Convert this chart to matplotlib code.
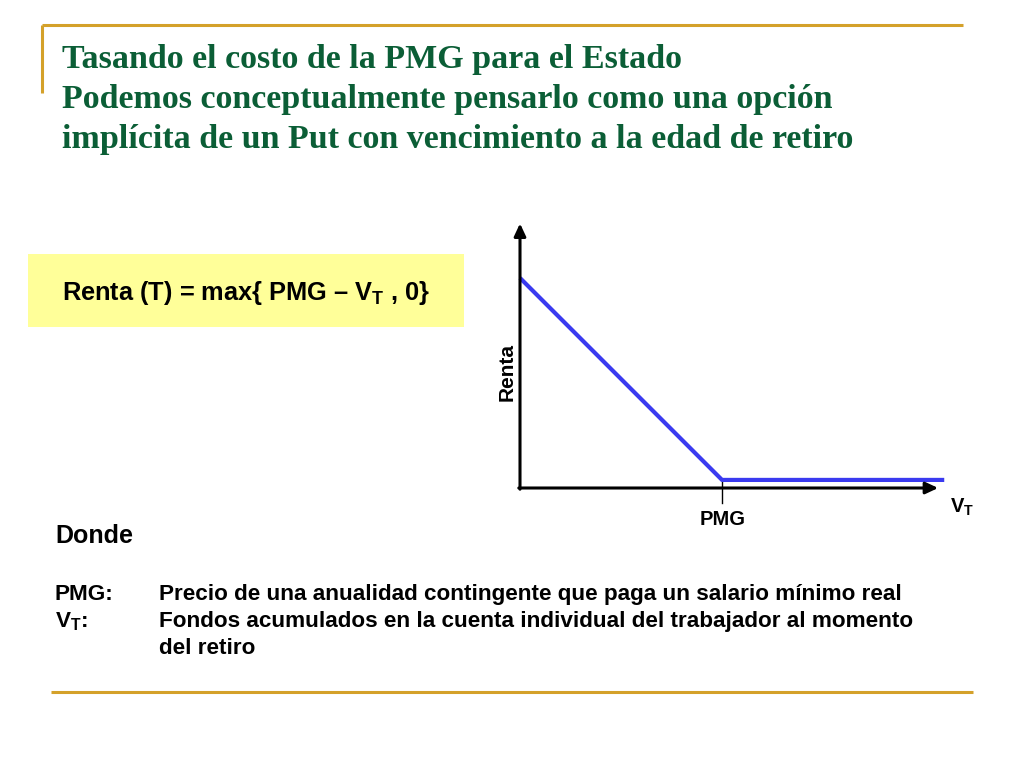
import matplotlib
matplotlib.use('Agg')
import matplotlib.pyplot as plt

# Slide text
title_lines = [
    'Tasando el costo de la PMG para el Estado',
    'Podemos conceptualmente pensarlo como una opción',
    'implícita de un Put con vencimiento a la edad de retiro',
]
formula = r'Renta (T) = max{ PMG – $\mathbf{V_T}$ , 0}'
donde_terms = ['PMG:', r'$\mathbf{V_T}$:', '']
donde_defs = [
    'Precio de una anualidad contingente que paga un salario mínimo real',
    'Fondos acumulados en la cuenta individual del trabajador al momento',
    'del retiro',
]

# Payoff of the put: Renta = max(PMG - V_T, 0)
pmg = 100
vt = [0, 100, 210]
renta = [100, 0, 0]

plt.rcParams['font.family'] = ['Liberation Sans', 'DejaVu Sans']
plt.rcParams['mathtext.fontset'] = 'custom'
plt.rcParams['mathtext.rm'] = 'Liberation Sans:bold'
plt.rcParams['mathtext.bf'] = 'Liberation Sans:bold'
plt.rcParams['mathtext.it'] = 'Liberation Sans:bold'

W, H = 1024, 768
fig = plt.figure(figsize=(W / 100, H / 100), dpi=100)

# background layer in pixel coordinates
bg = fig.add_axes([0, 0, 1, 1])
bg.set_xlim(0, W)
bg.set_ylim(H, 0)
bg.axis('off')

gold = '#D4A12A'
green = '#0B5E36'

# decorative gold rules
bg.plot([42, 963], [25, 25], color=gold, lw=2.2, solid_capstyle='butt')
bg.plot([42, 42], [25, 93], color=gold, lw=2.2, solid_capstyle='butt')
bg.plot([51, 973], [692, 692], color=gold, lw=2.2, solid_capstyle='butt')

# title
for i, line in enumerate(title_lines):
    bg.text(62, 68 + 40 * i, line, family='Liberation Serif', fontweight='bold',
            fontsize=24.5, color=green, ha='left', va='baseline')

# yellow formula box
bg.add_patch(plt.Rectangle((28, 254), 436, 73, facecolor='#FFFF99', edgecolor='none'))
bg.text(246, 300, formula, fontsize=18.3, fontweight='bold', ha='center', va='baseline')

# "Donde" block
bg.text(55, 543, 'Donde', fontsize=18, fontweight='bold', ha='left', va='baseline')
for i, (term, desc) in enumerate(zip(donde_terms, donde_defs)):
    y = 600 + 27 * i
    if term:
        bg.text(55, y, term, fontsize=16.2, fontweight='bold', ha='left', va='baseline')
    bg.text(159, y, desc, fontsize=16.2, fontweight='bold', ha='left', va='baseline')

# payoff diagram
ax = fig.add_axes([520 / W, (H - 488) / H, 440 / W, 270 / H])
ax.set_xlim(0, 217.8)
ax.set_ylim(-4, 129.7)
ax.axis('off')

arrow = dict(arrowstyle='-|>,head_length=0.75,head_width=0.35', color='black', lw=2.2,
             shrinkA=0, shrinkB=0, mutation_scale=10)
ax.annotate('', xy=(207, -4), xytext=(-0.6, -4), arrowprops=arrow, annotation_clip=False)
ax.annotate('', xy=(0, 127), xytext=(0, -4.6), arrowprops=arrow, annotation_clip=False)

ax.plot([pmg, pmg], [0, -11.4], color='black', lw=1, clip_on=False)
ax.plot(vt, renta, color='#3A3AF0', lw=3, clip_on=False, solid_capstyle='butt')

ax.annotate('PMG', xy=(pmg, -4), xytext=(1, -37), textcoords='offset pixels',
            ha='center', va='baseline', fontsize=14.5, fontweight='bold')

bg.text(950, 513, r'$\mathbf{V_T}$', fontsize=14.5, ha='left', va='baseline')
bg.text(507, 372, 'Renta', fontsize=15, fontweight='bold', rotation=90,
        ha='center', va='center')

fig.savefig('out.png', dpi=100)
